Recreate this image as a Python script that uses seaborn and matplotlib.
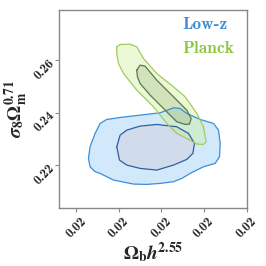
import numpy as np
import pandas as pd
import seaborn as sns
import matplotlib
matplotlib.use("Agg")
import matplotlib.pyplot as plt

# Contour outlines (x = Omega_b h^2.55, y = sigma8 Omega_m^0.71)
lowz_95_x = [0.021145, 0.021164, 0.021223, 0.021282, 0.021360, 0.021517, 0.021751, 0.021986,
             0.022143, 0.022221, 0.022299, 0.022456, 0.022613, 0.022671, 0.022691, 0.022683,
             0.022632, 0.022495, 0.022339, 0.022241, 0.022143, 0.021986, 0.021830, 0.021673,
             0.021438, 0.021282, 0.021223, 0.021164]
lowz_95_y = [0.22255, 0.22700, 0.23209, 0.23590, 0.23743, 0.23819, 0.23908, 0.23998,
             0.24188, 0.24163, 0.23972, 0.23743, 0.23590, 0.23336, 0.22827, 0.22318,
             0.22064, 0.21936, 0.21682, 0.21491, 0.21364, 0.21300, 0.21262, 0.21275,
             0.21428, 0.21682, 0.21746, 0.21936]
lowz_68_x = [0.021477, 0.021517, 0.021595, 0.021751, 0.021947, 0.022182, 0.022319, 0.022389,
             0.022370, 0.022299, 0.022143, 0.021947, 0.021751, 0.021595, 0.021509]
lowz_68_y = [0.22700, 0.23145, 0.23336, 0.23489, 0.23552, 0.23463, 0.23209, 0.22827,
             0.22445, 0.22216, 0.22000, 0.21809, 0.21873, 0.22000, 0.22191]
planck_95_x = [0.021477, 0.021517, 0.021634, 0.021712, 0.021791, 0.021947, 0.022143, 0.022280,
               0.022417, 0.022495, 0.022526, 0.022495, 0.022417, 0.022299, 0.022182, 0.022065,
               0.021908, 0.021712, 0.021556, 0.021497, 0.021477]
planck_95_y = [0.26517, 0.26606, 0.26618, 0.26517, 0.26071, 0.25499, 0.24990, 0.24608,
               0.23972, 0.23463, 0.22891, 0.22789, 0.22802, 0.23018, 0.23209, 0.23590,
               0.24227, 0.24863, 0.25499, 0.25880, 0.26262]
planck_68_x = [0.021712, 0.021751, 0.021810, 0.021947, 0.022143, 0.022299, 0.022350, 0.022331,
               0.022280, 0.022182, 0.022045, 0.021869, 0.021751, 0.021720]
planck_68_y = [0.25626, 0.25817, 0.25779, 0.25244, 0.24608, 0.24099, 0.23781, 0.23565,
               0.23552, 0.23654, 0.24099, 0.24672, 0.25117, 0.25371]

x_ticks = [0.021, 0.0215, 0.022, 0.0225, 0.023]
y_ticks = [0.22, 0.24, 0.26]
series_names = ["Low-z", "Planck"]

sns.set_style("white")
plt.rcParams["mathtext.fontset"] = "stix"
plt.rcParams["font.family"] = ["cmb10", "DejaVu Serif"]

fig = plt.figure(figsize=(2.66, 2.66), dpi=100)
ax = fig.add_axes([0.222, 0.218, 0.707, 0.744])

def draw(xs, ys, face, edge, alpha, lw):
    df = pd.DataFrame({"x": xs + xs[:1], "y": ys + ys[:1]})
    ax.fill(df["x"], df["y"], color=face, alpha=alpha, lw=0)
    sns.lineplot(data=df, x="x", y="y", sort=False, estimator=None, color=edge, lw=lw, ax=ax)

draw(lowz_95_x, lowz_95_y, "#d2e9fb", "#3a8fd8", 1.0, 0.9)
draw(lowz_68_x, lowz_68_y, "#d0dbec", "#2f5f9f", 1.0, 0.9)
draw(planck_95_x, planck_95_y, "#c8f08a", "#a0cc60", 0.35, 0.9)
draw(planck_68_x, planck_68_y, "#6f8a50", "#5a7a45", 0.2, 0.9)

ax.set_xlim(0.0208, 0.023007)
ax.set_ylim(0.2036, 0.2792)
ax.set_xticks(x_ticks)
ax.set_yticks(y_ticks)
ax.set_xticklabels([f"{v:.2f}" for v in x_ticks], rotation=45, ha="center", fontsize=9.5)
ax.set_yticklabels([f"{v:.2f}" for v in y_ticks], rotation=45, ha="right",
                   rotation_mode="anchor", fontsize=9.5)
ax.tick_params(axis="both", direction="out", length=3, width=0.8, color="#888888", pad=2.5,
               bottom=True, left=True)
for s in ax.spines.values():
    s.set_color("#888888")
    s.set_linewidth(1.0)

ax.set_xlabel(r"$\boldsymbol{\Omega}_{\mathbf{b}}\boldsymbol{h}^{\mathbf{2.55}}$", fontsize=14, labelpad=0)
ax.set_ylabel(r"$\boldsymbol{\sigma}_{\mathbf{8}}\boldsymbol{\Omega}_{\mathbf{m}}^{\mathbf{0.71}}$", fontsize=14, labelpad=1)

ax.text(0.656, 0.925, series_names[0], transform=ax.transAxes, color="#3a8fd8",
        fontsize=12.5, va="center", ha="left")
ax.text(0.656, 0.805, series_names[1], transform=ax.transAxes, color="#8cc63f",
        fontsize=12.5, va="center", ha="left")

fig.savefig("out.png", dpi=100)
